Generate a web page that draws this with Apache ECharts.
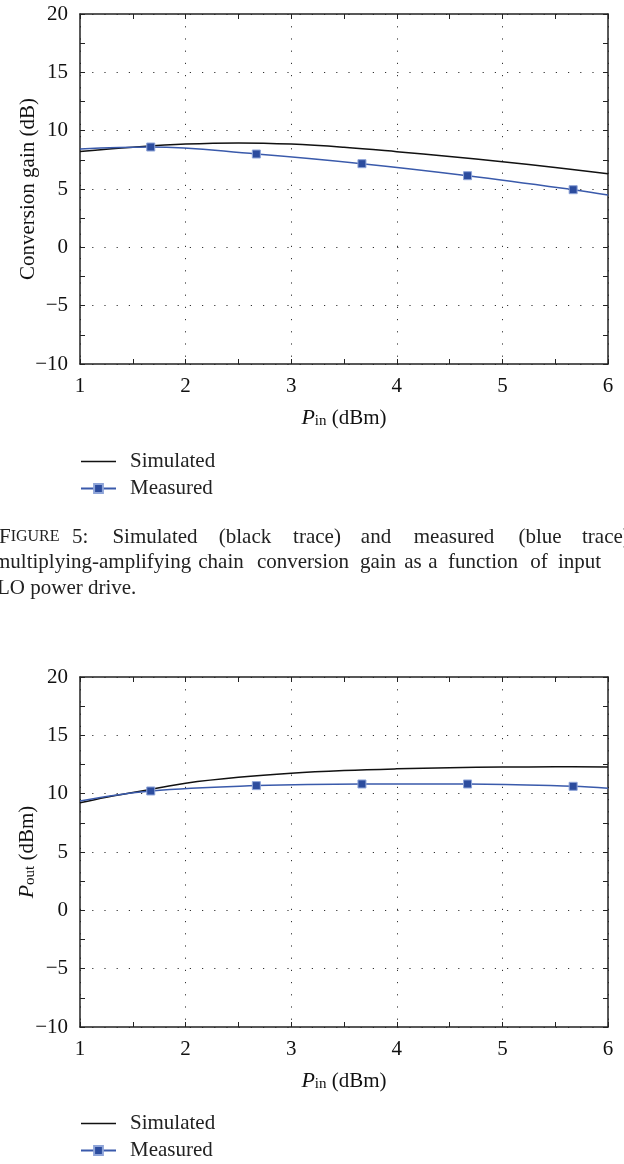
<!DOCTYPE html>
<html>
<head>
<meta charset="utf-8">
<script src="https://cdn.jsdelivr.net/npm/echarts@6/dist/echarts.min.js"></script>
<style>
  html, body { margin: 0; padding: 0; background: #fff; }
  #chart { width: 624px; height: 1164px; }
</style>
</head>
<body>
<div id="chart"></div>
<script>
// ---- Data ----
const xTicks = [1, 2, 3, 4, 5, 6];
const yTicks = [-10, -5, 0, 5, 10, 15, 20];

// Figure 5: conversion gain (dB) vs Pin (dBm)
const gainSimX = [1, 1.5, 2, 2.5, 3, 3.5, 4, 4.5, 5, 5.5, 6];
const gainSimY = [8.22, 8.58, 8.85, 8.95, 8.85, 8.58, 8.2, 7.78, 7.34, 6.85, 6.3];
const gainMeasX = [1, 1.67, 2.67, 3.67, 4.67, 5.67, 6];
const gainMeasY = [8.43, 8.6, 8.0, 7.17, 6.14, 4.94, 4.48];

// Figure 6: output power (dBm) vs Pin (dBm)
const poutSimX = [1, 1.25, 1.5, 1.75, 2, 2.5, 3, 3.5, 4, 4.5, 5, 5.5, 6];
const poutSimY = [9.22, 9.7, 10.1, 10.5, 10.9, 11.4, 11.75, 11.98, 12.13, 12.23, 12.28, 12.3, 12.28];
const poutMeasX = [1, 1.67, 2.67, 3.67, 4.67, 5.67, 6];
const poutMeasY = [9.37, 10.23, 10.69, 10.83, 10.83, 10.63, 10.46];

const seriesNames = ['Simulated', 'Measured'];

// caption text (justified in the original, so placed word by word)
const captionLine1 = ['FIGURE', '5:', 'Simulated', '(black', 'trace)', 'and', 'measured', '(blue', 'trace)'];
const captionLine2 = ['multiplying-amplifying', 'chain', 'conversion', 'gain', 'as', 'a', 'function', 'of', 'input'];
const captionLine3 = ['LO power drive.'];

// ---- Layout / styling (not data) ----
const FONT = 'Liberation Serif';
const AXIS_COLOR = '#222';
const BLUE = '#3a5aab';
const SQUARE = '#2c4c9e';
const LABEL_SIZE = 21;
const CAP_SIZE = 21;

// word anchors for caption: [x, align]
const cap1Pos = [[-1, 'left'], [72, 'left'], [155, 'center'], [245, 'center'], [317, 'center'], [376, 'center'], [454, 'center'], [540, 'center'], [582, 'left']];
const cap2Pos = [[-6, 'left'], [221, 'center'], [303, 'center'], [378, 'center'], [413, 'center'], [433, 'center'], [483, 'center'], [539, 'center'], [558, 'left']];
const cap3Pos = [[-3, 'left']];
const capY = [537, 562, 588];

function pairs(xs, ys) { return xs.map((x, i) => [x, ys[i]]); }
function measData(xs, ys) {
  // end points of the measured trace carry no marker
  return xs.map((x, i) => {
    const end = (i === 0 || i === xs.length - 1);
    return end ? { value: [x, ys[i]], symbol: 'none' } : { value: [x, ys[i]] };
  });
}
const minus = v => String(v).replace('-', '\u2212');

function xAxisPair(gridIndex, nameRich) {
  const common = {
    type: 'value', gridIndex, min: xTicks[0], max: xTicks[xTicks.length - 1], interval: 1,
    axisLine: { show: true, onZero: false, lineStyle: { color: AXIS_COLOR, width: 1.5 } },
    axisTick: { show: true, inside: true, length: 5, lineStyle: { color: AXIS_COLOR, width: 1 } },
    minorTick: { show: true, splitNumber: 2, length: 5, lineStyle: { color: AXIS_COLOR, width: 1 } },
  };
  return [
    Object.assign({}, common, {
      position: 'bottom',
      axisLabel: { fontFamily: FONT, fontSize: LABEL_SIZE, color: '#111', margin: 12 },
      splitLine: { show: true, lineStyle: { color: '#333', width: 1, type: [1.2, 11] } },
      name: nameRich.text, nameLocation: 'middle', nameGap: 43,
      nameTextStyle: { fontFamily: FONT, fontSize: LABEL_SIZE, color: '#111', rich: nameRich.rich }
    }),
    Object.assign({}, common, {
      position: 'top',
      axisLabel: { show: false },
      splitLine: { show: false }
    })
  ];
}

function yAxisPair(gridIndex, name, nameGap, rich) {
  const common = {
    type: 'value', gridIndex, min: yTicks[0], max: yTicks[yTicks.length - 1], interval: 5,
    axisLine: { show: true, onZero: false, lineStyle: { color: AXIS_COLOR, width: 1.5 } },
    axisTick: { show: true, inside: true, length: 5, lineStyle: { color: AXIS_COLOR, width: 1 } },
    minorTick: { show: true, splitNumber: 2, length: 5, lineStyle: { color: AXIS_COLOR, width: 1 } },
  };
  return [
    Object.assign({}, common, {
      position: 'left',
      axisLabel: { fontFamily: FONT, fontSize: LABEL_SIZE, color: '#111', margin: 12, formatter: minus },
      splitLine: { show: true, lineStyle: { color: '#333', width: 1, type: [1.2, 11] } },
      name, nameLocation: 'middle', nameGap, nameRotate: 90, nameMoveOverlap: false,
      nameTextStyle: { fontFamily: FONT, fontSize: LABEL_SIZE, color: '#111', rich: rich || {} }
    }),
    Object.assign({}, common, {
      position: 'right',
      axisLabel: { show: false },
      splitLine: { show: false }
    })
  ];
}

const subRich = {
  p: { fontFamily: FONT, fontStyle: 'italic', fontSize: 22, color: '#111' },
  s: { fontFamily: FONT, fontSize: 15, color: '#111', verticalAlign: 'bottom', lineHeight: 12 },
  n: { fontFamily: FONT, fontSize: LABEL_SIZE, color: '#111' }
};
const pinName = { text: '{p|P}{s|in}{n| (dBm)}', rich: subRich };

function simSeries(xIdx, yIdx, xs, ys) {
  return {
    name: seriesNames[0], type: 'line', xAxisIndex: xIdx, yAxisIndex: yIdx,
    data: pairs(xs, ys), smooth: 0.4, symbol: 'none',
    lineStyle: { color: '#111', width: 1.5 }, itemStyle: { color: '#111' }, z: 3
  };
}
function measSeries(xIdx, yIdx, xs, ys) {
  return {
    name: seriesNames[1], type: 'line', xAxisIndex: xIdx, yAxisIndex: yIdx,
    data: measData(xs, ys), smooth: 0.4, symbol: 'rect', symbolSize: 8, showAllSymbol: true,
    lineStyle: { color: BLUE, width: 1.5 },
    itemStyle: { color: SQUARE, borderColor: '#8ea4d8', borderWidth: 1 }, z: 4
  };
}

function legendAt(top) {
  return {
    orient: 'vertical', left: 80, top, padding: 0, itemWidth: 35, itemHeight: 11, itemGap: 6,
    height: 80,
    data: [
      { name: seriesNames[0], icon: 'path://M0,0H35V1.4H0Z' },
      { name: seriesNames[1] }
    ],
    selectedMode: false,
    textStyle: { fontFamily: FONT, fontSize: LABEL_SIZE, color: '#222', padding: [0, 0, 0, 9] }
  };
}

const graphics = [];
function addLine(words, pos, y) {
  words.forEach((w, i) => {
    const [x, align] = pos[i];
    const style = { fontFamily: FONT, fontSize: CAP_SIZE, fill: '#222', align, verticalAlign: 'middle' };
    if (w === 'FIGURE') {
      style.text = '{a|F}{b|IGURE}';
      style.rich = { a: { fontFamily: FONT, fontSize: CAP_SIZE, fill: '#222' }, b: { fontFamily: FONT, fontSize: 16, fill: '#222' } };
    } else {
      style.text = w;
    }
    graphics.push({ type: 'text', x, y, style });
  });
}
addLine(captionLine1, cap1Pos, capY[0]);
addLine(captionLine2, cap2Pos, capY[1]);
addLine(captionLine3, cap3Pos, capY[2]);

const chart = echarts.init(document.getElementById('chart'), null, { renderer: 'canvas' });
const xa1 = xAxisPair(0, pinName), xa2 = xAxisPair(1, pinName);
const ya1 = yAxisPair(0, 'Conversion gain (dB)', 41), ya2 = yAxisPair(1, '{p|P}{s|out}{n| (dBm)}', 42, subRich);

chart.setOption({
  backgroundColor: '#fff',
  animation: false,
  textStyle: { fontFamily: FONT },
  grid: [
    { left: 80, right: 16, top: 14, height: 350, containLabel: false, outerBoundsMode: 'none' },
    { left: 80, right: 16, top: 677, height: 350, containLabel: false, outerBoundsMode: 'none' }
  ],
  xAxis: [xa1[0], xa1[1], xa2[0], xa2[1]],
  yAxis: [ya1[0], ya1[1], ya2[0], ya2[1]],
  legend: [legendAt(451), legendAt(1113)],
  series: [
    simSeries(0, 0, gainSimX, gainSimY),
    measSeries(0, 0, gainMeasX, gainMeasY),
    simSeries(2, 2, poutSimX, poutSimY),
    measSeries(2, 2, poutMeasX, poutMeasY)
  ],
  graphic: graphics
});
</script>
</body>
</html>
